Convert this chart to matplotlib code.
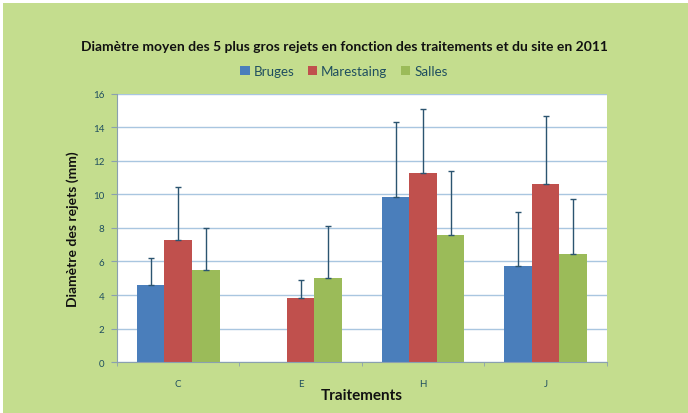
import numpy as np
import matplotlib.pyplot as plt
from matplotlib.patches import Rectangle

plt.rcParams['font.family'] = ['Lato', 'DejaVu Sans']

# Mean diameter of the 5 biggest shoots per treatment and site (2011)
treatments = ['C', 'E', 'H', 'J']
sites = ['Bruges', 'Marestaing', 'Salles']
bruges = [4.6, np.nan, 9.85, 5.75]
marestaing = [7.3, 3.8, 11.3, 10.65]
salles = [5.5, 5.0, 7.6, 6.45]
# upper end of the standard deviation bars
bruges_err = [1.6, np.nan, 4.45, 3.2]
marestaing_err = [3.15, 1.1, 3.8, 4.05]
salles_err = [2.5, 3.1, 3.8, 3.3]

colors = ['#4a7ebb', '#c0504d', '#9bbb59']
bg = '#c4dd8e'

fig = plt.figure(figsize=(6.88, 4.14), dpi=100, facecolor=bg)
# thin white margin along the top and left edges
fig.patches.append(Rectangle((0, 0.99), 1, 0.01, transform=fig.transFigure,
                             facecolor='white', edgecolor='none'))
fig.patches.append(Rectangle((0, 0), 0.004, 1, transform=fig.transFigure,
                             facecolor='white', edgecolor='none'))
ax = fig.add_axes([0.170, 0.123, 0.712, 0.648])
ax.set_facecolor('white')

x = np.arange(len(treatments)) + 0.5
w = 0.225
series = [bruges, marestaing, salles]
errs = [bruges_err, marestaing_err, salles_err]
for i, (vals, err) in enumerate(zip(series, errs)):
    pos = x + (i - 1) * w
    ax.bar(pos, vals, width=w, color=colors[i], edgecolor='none', label=sites[i], zorder=2)
    lower = np.zeros(len(vals))
    ax.errorbar(pos, vals, yerr=[lower, err], fmt='none', ecolor='#2b5470',
                elinewidth=1.0, capsize=2.5, capthick=1.0, zorder=3)

ax.set_xlim(0, 4)
ax.set_ylim(0, 16)
ax.set_yticks(np.arange(0, 17, 2))
ax.set_xticks(x)
ax.set_xticklabels(treatments)
ax.set_xticks(np.arange(0, 5), minor=True)
ax.tick_params(axis='x', which='major', length=0, pad=12, labelsize=7, labelcolor='#1f4e5f')
ax.tick_params(axis='x', which='minor', length=3, color='#8aa0b0', direction='out')
ax.tick_params(axis='y', length=4, color='#8aa0b0', labelsize=7, labelcolor='#1f4e5f', pad=5)
ax.yaxis.grid(True, color='#a9c6e0', linewidth=1.0, zorder=0)
ax.set_axisbelow(True)
for s in ['top', 'right']:
    ax.spines[s].set_visible(False)
ax.spines['left'].set_color('#8aa0b0')
ax.spines['bottom'].set_color('#8aa0b0')

ax.set_ylabel('Diamètre des rejets (mm)', fontsize=10, fontweight='bold', color='#111111', labelpad=10)
ax.set_xlabel('Traitements', fontsize=11, fontweight='bold', color='#111111', labelpad=0)

fig.text(0.5, 0.887, 'Diamètre moyen des 5 plus gros rejets en fonction des traitements et du site en 2011',
         ha='center', va='center', fontsize=10, fontweight='bold', color='#111111')
fig.legend(loc='center', bbox_to_anchor=(0.5, 0.826), ncol=3, frameon=False, fontsize=9.6,
           handlelength=0.7, handleheight=0.7, handletextpad=0.3, columnspacing=1.0,
           labelcolor='#1f4e5f')

fig.savefig('out.png', dpi=100, facecolor=fig.get_facecolor())
